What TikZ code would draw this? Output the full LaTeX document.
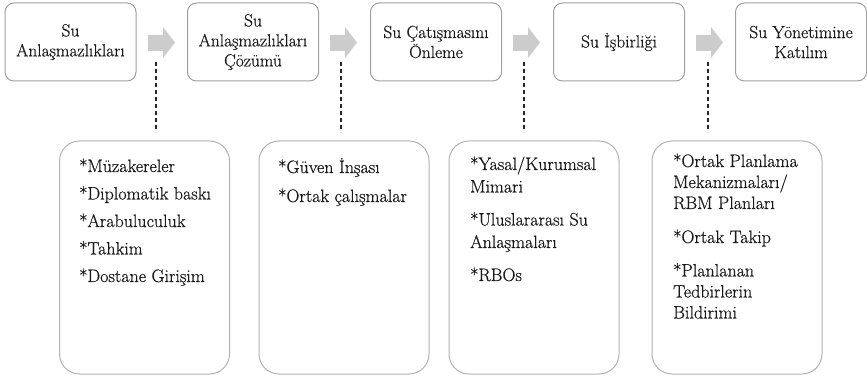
\documentclass[tikz,border=0pt]{standalone}
\usepackage{fontspec}
\setmainfont{Latin Modern Roman}[FakeBold=0.6]
\begin{document}
\begin{tikzpicture}[x=1pt,y=-1pt,
 topbox/.style={draw=gray!75, line width=1pt, rounded corners=9pt, minimum width=131pt, minimum height=78pt, align=center, inner sep=0pt, font=\fontsize{17.5}{20}\selectfont, text=black!90},
 lowbox/.style={draw=gray!60, line width=1pt, rounded corners=20pt, minimum width=170pt, minimum height=233pt, inner sep=0pt},
 itemtext/.style={anchor=base west, inner sep=0pt, text=black!90},
 flowarrow/.style={fill=gray!40, draw=none},
 dashlink/.style={draw=black!85, line width=1.1pt, dash pattern=on 4pt off 3pt}]
\useasboundingbox (0,0) rectangle (867,379);

% top boxes
\node[topbox] (t1) at (70.5,42) {Su\\Anlaşmazlıkları};
\node[topbox] (t2) at (253,42) {Su\\Anlaşmazlıkları\\Çözümü};
\node[topbox] (t3) at (436,42) {Su Çatışmasını\\Önleme};
\node[topbox] (t4) at (619,42) {Su İşbirliği};
\node[topbox] (t5) at (801,42) {Su Yönetimine\\Katılım};

% block arrows
\foreach \ax in {148,330,513,696}{
  \fill[flowarrow] (\ax,35) -- (\ax+15,35) -- (\ax+15,27) -- (\ax+27,42.5) -- (\ax+15,58) -- (\ax+15,51) -- (\ax,51) -- cycle;
}

% lower boxes
\node[lowbox] (b1) at (144.5,257.5) {};
\node[lowbox] (b2) at (344,257.5) {};
\node[lowbox] (b3) at (534,257.5) {};
\node[lowbox] (b4) at (737,257.5) {};

% dashed links
\coordinate (d1a) at (156,62);  \coordinate (d1b) at (156,132);
\coordinate (d2a) at (341,62);  \coordinate (d2b) at (341,132);
\coordinate (d3a) at (524,62);  \coordinate (d3b) at (524,132);
\coordinate (d4a) at (708,62);  \coordinate (d4b) at (708,132);
\draw[dashlink] (d1a) -- (d1b);
\draw[dashlink] (d2a) -- (d2b);
\draw[dashlink] (d3a) -- (d3b);
\draw[dashlink] (d4a) -- (d4b);

% texts
\node[itemtext] (x1) at (79,172) {\parbox[t]{200pt}{\fontsize{18}{22}\selectfont\raggedright
*Müzakereler\\[5.5pt]*Diplomatik baskı\\[5.5pt]*Arabuluculuk\\[5.5pt]*Tahkim\\[5.5pt]*Dostane Girişim}};
\node[itemtext] (x2) at (278,173) {\parbox[t]{200pt}{\fontsize{18}{22}\selectfont\raggedright
*Güven İnşası\\[7pt]*Ortak çalışmalar}};
\node[itemtext] (x3) at (470,170) {\parbox[t]{200pt}{\fontsize{18}{22.5}\selectfont\raggedright
*Yasal/Kurumsal\\Mimari\\[10.5pt]*Uluslararası Su\\Anlaşmaları\\[10.5pt]*RBOs}};
\node[itemtext] (x4) at (673,167) {\parbox[t]{200pt}{\fontsize{18}{21}\selectfont\raggedright
*Ortak Planlama\\Mekanizmaları/\\RBM Planları\\[13pt]*Ortak Takip\\[12.5pt]*Planlanan\\Tedbirlerin\\Bildirimi}};
\end{tikzpicture}
\end{document}
